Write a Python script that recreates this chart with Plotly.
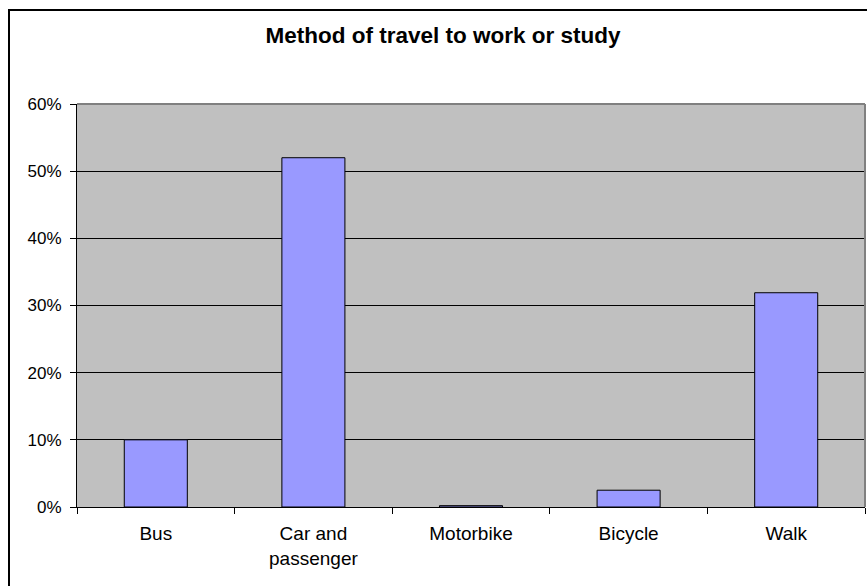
import plotly.graph_objects as go

categories = ["Bus", "Car and<br>passenger", "Motorbike", "Bicycle", "Walk"]
shares = [0.10, 0.52, 0.002, 0.025, 0.319]
y_ticks = [0, 0.1, 0.2, 0.3, 0.4, 0.5, 0.6]
y_tick_labels = ["0%", "10%", "20%", "30%", "40%", "50%", "60%"]

W, H = 867, 586
L, R, T, B = 77, 2, 104, 79
pw, ph = W - L - R, H - T - B

fig = go.Figure(go.Bar(
    x=categories, y=shares, width=0.4,
    marker=dict(color="#9999FF", line=dict(color="black", width=1)),
))

fig.update_layout(
    width=W, height=H,
    margin=dict(l=L, r=R, t=T, b=B),
    paper_bgcolor="white", plot_bgcolor="#C0C0C0",
    font=dict(family="Liberation Sans, Arial", color="black"),
    showlegend=False,
    title=dict(text="<b>Method of travel to work or study</b>",
               font=dict(size=22.5, color="black"),
               x=(443 - L) / pw, xref="paper", xanchor="center",
               y=1 - 35 / H, yref="container", yanchor="middle"),
    bargap=0.6,
)
fig.update_xaxes(
    showline=True, linecolor="black", linewidth=1,
    ticks="outside", tickson="boundaries", ticklen=6, tickcolor="black",
    tickfont=dict(size=19), ticklabelstandoff=9, showgrid=False,
)
fig.update_yaxes(
    range=[0, 0.6], tickvals=y_ticks, ticktext=y_tick_labels,
    showline=True, linecolor="black", linewidth=1,
    ticks="outside", ticklen=6, tickcolor="black",
    tickfont=dict(size=17), ticklabelstandoff=5,
    showgrid=True, gridcolor="black", gridwidth=1, zeroline=False,
)

# plot area frame (gray top/right) and outer chart border
fig.add_shape(type="line", xref="paper", yref="paper", x0=0, x1=1, y0=1, y1=1,
              line=dict(color="#808080", width=2))
fig.add_shape(type="line", xref="paper", yref="paper", x0=1, x1=1, y0=0, y1=1,
              line=dict(color="#808080", width=2))
fig.add_shape(type="rect", xref="paper", yref="paper",
              x0=(9 - L) / pw, x1=1.2, y0=-0.5, y1=(T + ph - 10) / ph,
              line=dict(color="black", width=2), layer="above")

fig.write_html("out.html")
